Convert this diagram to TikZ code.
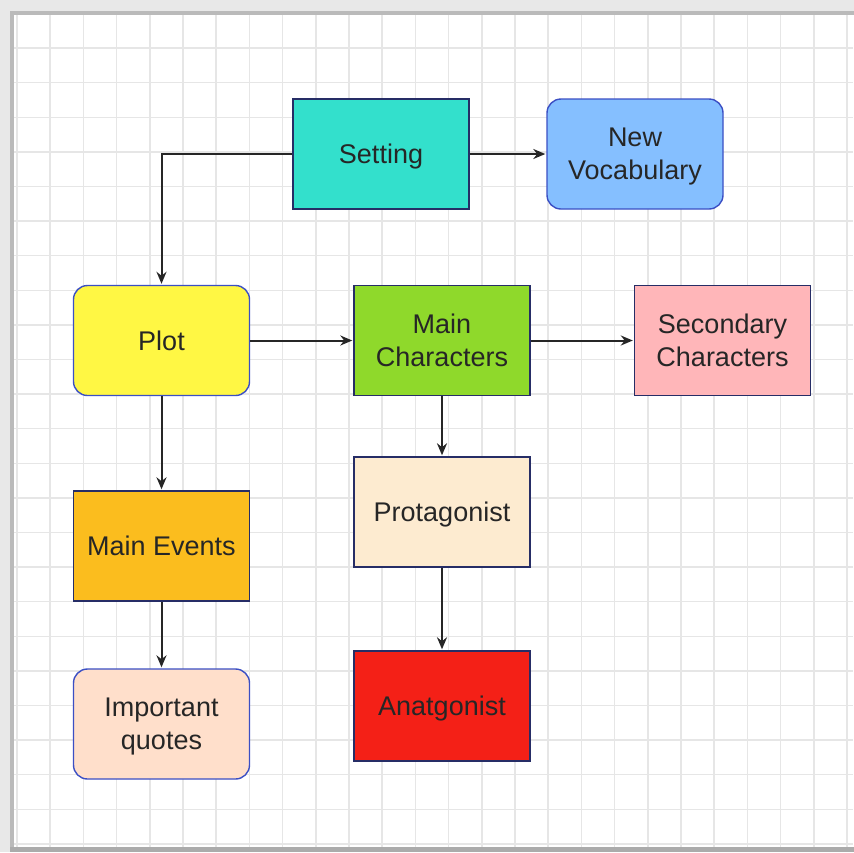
\documentclass[tikz,border=0pt]{standalone}
\usepackage{fontspec}
\setmainfont{Liberation Sans}
\usepackage{tikz}
\usetikzlibrary{shapes,arrows.meta}
\definecolor{gridcol}{HTML}{E6E6E6}
\definecolor{navy}{HTML}{262D66}
\definecolor{rimblue}{HTML}{3B4FC4}
\definecolor{setcol}{HTML}{33E0CC}
\definecolor{vocabcol}{HTML}{85BFFF}
\definecolor{plotcol}{HTML}{FFF744}
\definecolor{charcol}{HTML}{8FD92B}
\definecolor{secondcol}{HTML}{FFB6B9}
\definecolor{eventcol}{HTML}{FBBD1E}
\definecolor{protcol}{HTML}{FDEBD0}
\definecolor{quotecol}{HTML}{FFDFCB}
\definecolor{antcol}{HTML}{F42017}
\tikzstyle{block} = [draw=navy, line width=1.4pt, rectangle, minimum width=176pt, minimum height=110pt, align=center, text depth=0pt, text=black!85, font=\fontsize{27}{33}\selectfont]
\tikzstyle{rblock} = [block, draw=rimblue, rounded corners=14pt]
\tikzstyle{link} = [line width=2pt, draw=black!85]

\begin{document}
\begin{tikzpicture}[->,>={Stealth[length=12pt,width=10pt]},shorten >=1pt,x=1pt,y=-1pt]
\useasboundingbox (0,0) rectangle (854,852);

% paper and grid
\fill[white] (0,0) rectangle (854,852);
\foreach \i in {0,...,25}
  \draw[-, gridcol, line width=1.5pt] (17+33.2*\i,15) -- (17+33.2*\i,848);
\foreach \j in {1,...,24}
  \draw[-, gridcol, line width=1.5pt] (14,13.5+34.6*\j) -- (854,13.5+34.6*\j);

% frame
\fill[black!9] (0,0) rectangle (854,11);
\fill[black!9] (0,0) rectangle (10,852);
\fill[black!27] (10,11) rectangle (854,15);
\fill[black!27] (10,11) rectangle (14,848);
\fill[black!33] (10,847) rectangle (854,852);

\node[block, fill=setcol, xshift=381pt, yshift=-154pt] (setting) [] {Setting};
\node[rblock, fill=vocabcol, xshift=635pt, yshift=-154pt] (vocab) [] {New\\Vocabulary};

\node[rblock, fill=plotcol, xshift=161.5pt, yshift=-340.5pt] (plot) [] {Plot};
\node[block, fill=charcol, xshift=442pt, yshift=-340.5pt] (mainchar) [] {Main\\Characters};
\node[block, fill=secondcol, xshift=722.5pt, yshift=-340.5pt] (second) [] {Secondary\\Characters};

\node[block, fill=protcol, xshift=442pt, yshift=-512pt] (prot) [] {Protagonist};
\node[block, fill=antcol, xshift=442pt, yshift=-706pt] (ant) [] {Anatgonist};

\node[block, fill=eventcol, xshift=161.5pt, yshift=-546pt] (events) [] {Main Events};
\node[rblock, fill=quotecol, xshift=161.5pt, yshift=-724pt] (quotes) [] {Important\\quotes};

\draw[link] (setting.west) -| (plot.north);

\path
(setting) edge [link] node {} (vocab)
(plot) edge [link] node {} (mainchar)
(mainchar) edge [link] node {} (second)
(mainchar) edge [link] node {} (prot)
(prot) edge [link] node {} (ant)
(plot) edge [link] node {} (events)
(events) edge [link] node {} (quotes);

\end{tikzpicture}
\end{document}
